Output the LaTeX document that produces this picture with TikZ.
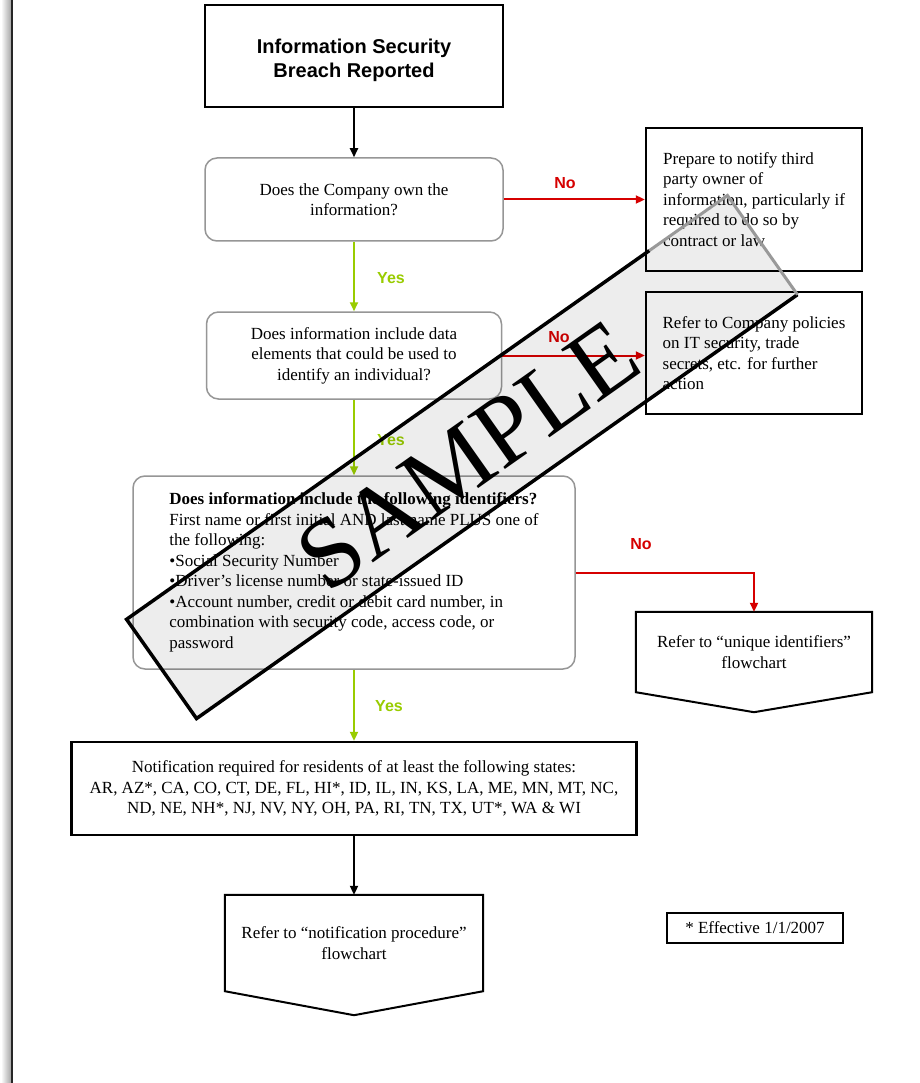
\documentclass[tikz,border=0pt]{standalone}
\usepackage{fontspec}
\setmainfont{Liberation Serif}
\newfontfamily\headfont{Liberation Sans}
\usetikzlibrary{positioning,calc,arrows.meta}
\definecolor{yesgreen}{RGB}{153,204,0}
\definecolor{nored}{RGB}{214,0,0}
\definecolor{framegray}{RGB}{150,150,150}
\newcommand{\bodysize}{\fontsize{17}{20.5}\selectfont}
\newcommand{\labelsize}{\headfont\bfseries\fontsize{16}{16}\selectfont}

\begin{document}
\begin{tikzpicture}[x=1pt,y=-1pt,
    >={Triangle[length=9pt,width=8pt]},
    every node/.style={font=\bodysize, inner sep=0pt},
    decision/.style={draw=framegray, line width=1.5pt, rounded corners=12pt, align=center},
    action/.style={draw, line width=2.4pt, align=left},
    flowref/.style={align=center},
    yesline/.style={yesgreen, line width=2pt, ->},
    noline/.style={nored, line width=2pt, ->},
    plainline/.style={black, line width=2pt, ->},
    yeslabel/.style={text=yesgreen, font=\labelsize},
    nolabel/.style={text=nored, font=\labelsize}]
        \useasboundingbox (0,0) rectangle (919,1083);
        \fill[white] (0,0) rectangle (919,1083);
        \shade[left color=white, right color=gray!70] (1,0) rectangle (11,1083);
        \draw[line width=2pt, black!85] (12,0) -- (12,1083);

        \node[action, align=center, font=\headfont\bfseries\fontsize{20}{24.5}\selectfont,
              minimum width=298, minimum height=102] (start) at (354,56) {\rule{0pt}{23pt}Information Security\\Breach Reported};
        \node[decision, minimum width=298, minimum height=83] (own) at (354,199.5) {Does the Company own the\\information?};
        \node[decision, minimum width=295, minimum height=87] (data) at (354,355.5) {Does information include data\\elements that could be used to\\identify an individual?};
        \node[decision, align=left, minimum width=442, minimum height=193] (ident) at (354,572.5)
            {\textbf{Does information include the following identifiers?}\\
             First name or first initial AND last name PLUS one of\\
             the following:\\
             •Social Security Number\\
             •Driver’s license number or state-issued ID\\
             •Account number, credit or debit card number, in\\
             combination with security code, access code, or\\
             password};
        \node[action, minimum width=216, minimum height=143] (third) at (754,199.5)
            {Prepare to notify third\\party owner of\\information, particularly if\\required to do so by\\contract or law};
        \node[action, minimum width=216, minimum height=122] (policy) at (754,353)
            {Refer to Company policies\\on IT security, trade\\secrets, etc. for further\\action};
        \node[flowref, minimum width=236, minimum height=80] (unique) at (754,652) {Refer to “unique identifiers”\\flowchart};
        \node[action, align=center, minimum width=565, minimum height=93] (states) at (354,788.5)
            {Notification required for residents of at least the following states:\\
             AR, AZ*, CA, CO, CT, DE, FL, HI*, ID, IL, IN, KS, LA, ME, MN, MT, NC,\\
             ND, NE, NH*, NJ, NV, NY, OH, PA, RI, TN, TX, UT*, WA \& WI};
        \node[flowref, minimum width=258, minimum height=96] (notify) at (354,943) {Refer to “notification procedure”\\flowchart};
        \node[action, line width=2pt, minimum width=176, minimum height=30] (effective) at (755,928) {* Effective 1/1/2007};

        \draw[line width=2pt] (unique.south west) -- (unique.north west) -- (unique.north east)
            -- (unique.south east) -- ($(unique.south)+(0,20)$) -- cycle;
        \draw[line width=2pt] (notify.south west) -- (notify.north west) -- (notify.north east)
            -- (notify.south east) -- ($(notify.south)+(0,24)$) -- cycle;

        \draw[plainline] (start) -- (own);
        \draw[yesline] (own) -- (data);
        \draw[yesline] (data) -- (ident);
        \draw[yesline] (ident) -- (states);
        \draw[plainline] (states) -- (notify);
        \draw[noline] (own) -- (third);
        \draw[noline] (data.east) -- (data.east -| policy.west);
        \draw[noline] (ident.east) -| (unique.north);

        \node[nolabel] (no1) at (565,183) {No};
        \node[yeslabel] (yes1) at (391,278) {Yes};
        \node[nolabel] (no2) at (559,337) {No};
        \node[yeslabel] (yes2) at (391,440) {Yes};
        \node[nolabel] (no3) at (641,544) {No};
        \node[yeslabel] (yes3) at (389,706) {Yes};

        \node[fill=gray!14, blend mode=multiply, rotate=35.2, minimum width=735, minimum height=121] (stamp) at (462,457) {};
        \node[rotate=35.2, font=\fontsize{99}{99}\selectfont] (sample) at (468,456) {SAMPLE};
        \coordinate (fade) at ($(stamp.north west)!0.87!(stamp.north east)$);
        \draw[line width=3.5pt, line join=miter] (fade) -- (stamp.north west) -- (stamp.south west) -- (stamp.south east);
        \draw[line width=3pt, gray!80] (fade) -- (stamp.north east) -- (stamp.south east);
    \end{tikzpicture}
\end{document}
